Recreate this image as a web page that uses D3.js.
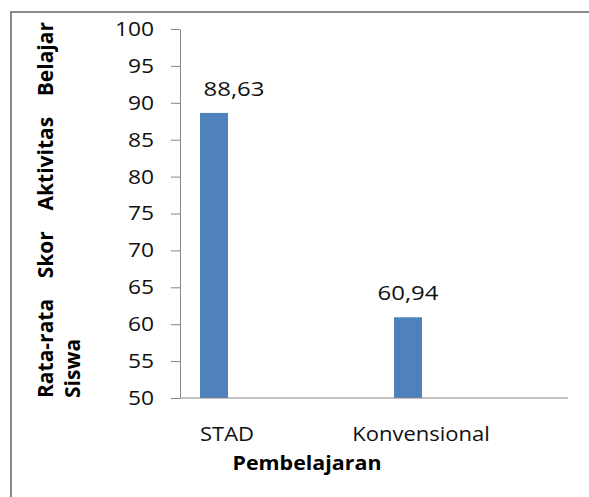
<!DOCTYPE html>
<html><head><meta charset="utf-8">
<script src="https://cdn.jsdelivr.net/npm/d3@7"></script>
<style>
html,body{margin:0;padding:0;background:#fff;}
text{font-family:"Open Sans",sans-serif;}
</style></head>
<body>
<svg id="chart" width="589" height="497"></svg>
<script>
const categories = ["STAD", "Konvensional"];
const values = [88.63, 60.94];
const valueLabels = ["88,63", "60,94"];
const yTicks = [50, 55, 60, 65, 70, 75, 80, 85, 90, 95, 100];
const yTitleLines = ["Rata-rata Skor Aktivitas Belajar", "Siswa"];
const xTitle = "Pembelajaran";

const svg = d3.select("#chart");

function fitWidth(sel, w) {
  sel.attr("textLength", w).attr("lengthAdjust", "spacingAndGlyphs");
}
function stretch(sel, k) {
  sel.each(function () {
    const w = this.getComputedTextLength();
    d3.select(this).attr("textLength", w * k).attr("lengthAdjust", "spacingAndGlyphs");
  });
}

// outer frame
svg.append("rect").attr("x", 11).attr("y", 12).attr("width", 700).attr("height", 700)
  .attr("fill", "#fff").attr("stroke", "#8a8a8a").attr("stroke-width", 2);

const y = d3.scaleLinear().domain([50, 100]).range([398, 29]);
const x = d3.scaleBand().domain(categories).range([180, 568]);

// bars
svg.selectAll("rect.bar").data(categories).join("rect").attr("class", "bar")
  .attr("x", d => x(d) + 20).attr("width", 28)
  .attr("y", (d, i) => y(values[i])).attr("height", (d, i) => y(50) - y(values[i]))
  .attr("fill", "#4f81bd");

// y axis
const yAxis = svg.append("g").attr("transform", "translate(180,0)")
  .call(d3.axisLeft(y).tickValues(yTicks).tickSize(9).tickSizeOuter(0).tickPadding(17).tickFormat(d3.format("d")));
yAxis.select(".domain").attr("stroke", "#868686");
yAxis.selectAll(".tick line").attr("stroke", "#868686");
yAxis.selectAll(".tick text").attr("font-size", 20).attr("fill", "#111")
  .attr("font-family", "'Open Sans',sans-serif").call(stretch, 1.14);

// x axis line
svg.append("line").attr("x1", x.range()[0]).attr("x2", x.range()[1])
  .attr("y1", y(50)).attr("y2", y(50)).attr("stroke", "#868686");

// category labels
svg.selectAll("text.cat").data(categories).join("text").attr("class", "cat")
  .attr("x", d => x(d) + 47).attr("y", 441).attr("text-anchor", "middle")
  .attr("font-size", 20).attr("fill", "#111").text(d => d).call(stretch, 1.1);

// value labels
svg.selectAll("text.val").data(categories).join("text").attr("class", "val")
  .attr("x", (d, i) => x(d) + 34 + (i === 0 ? 20 : 0))
  .attr("y", (d, i) => y(values[i]) - 17).attr("text-anchor", "middle")
  .attr("font-size", 20).attr("fill", "#111").text((d, i) => valueLabels[i]).call(fitWidth, 61);

// x title
svg.append("text").attr("x", 307).attr("y", 470).attr("text-anchor", "middle")
  .attr("font-size", 20).attr("font-weight", "bold").attr("fill", "#000")
  .text(xTitle).call(fitWidth, 149);

// y title (two lines, first justified)
const yt = svg.append("g").attr("transform", "translate(0,398) rotate(-90)");
const l1 = yt.append("text").attr("x", 0).attr("y", 53).attr("font-size", 21)
  .attr("font-weight", "bold").attr("fill", "#000").text(yTitleLines[0]);
const natural = l1.node().getComputedTextLength();
const gaps = yTitleLines[0].split(" ").length - 1;
l1.attr("word-spacing", Math.max(0, (376 - natural) / gaps));
yt.append("text").attr("x", 0).attr("y", 80).attr("font-size", 21)
  .attr("font-weight", "bold").attr("fill", "#000").text(yTitleLines[1]);
</script>
</body></html>
